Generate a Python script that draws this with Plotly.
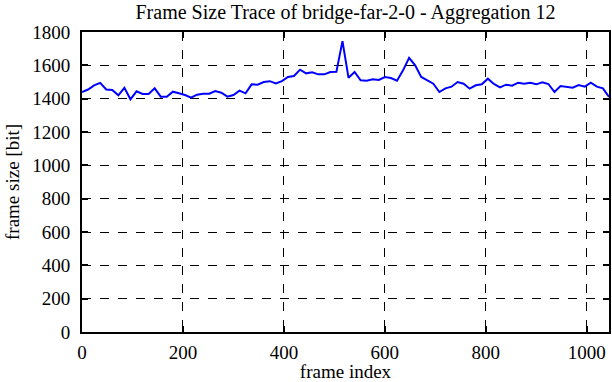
import plotly.graph_objects as go

frame_index = list(range(0, 1045, 12))
frame_size = [
    1440, 1455, 1480, 1495, 1455, 1452, 1420, 1465, 1396, 1444,
    1428, 1428, 1462, 1412, 1412, 1442, 1432, 1422, 1406, 1424,
    1430, 1430, 1446, 1436, 1412, 1422, 1448, 1432, 1486, 1484,
    1500, 1505, 1492, 1505, 1530, 1536, 1574, 1552, 1558, 1546,
    1546, 1560, 1562, 1745, 1525, 1560, 1510, 1508, 1516, 1512,
    1530, 1524, 1508, 1570, 1645, 1600, 1530, 1508, 1490, 1440,
    1462, 1472, 1500, 1490, 1460, 1480, 1486, 1520, 1488, 1468,
    1484, 1478, 1496, 1490, 1496, 1486, 1498, 1488, 1440, 1476,
    1472, 1466, 1482, 1472, 1496, 1472, 1462, 1410,
]

x_ticks = [0, 200, 400, 600, 800, 1000]
y_ticks = [0, 200, 400, 600, 800, 1000, 1200, 1400, 1600, 1800]

font_family = "Liberation Serif, Times New Roman, serif"

W, H = 612, 382
L, R, T, B = 82, 3, 32, 50

fig = go.Figure()
fig.add_trace(go.Scatter(
    x=frame_index, y=frame_size, mode="lines",
    line=dict(color="#0000ff", width=2),
    showlegend=False,
))

axis_common = dict(
    showline=True, linecolor="black", linewidth=2, mirror="ticks",
    ticks="inside", ticklen=6, tickwidth=1.5, tickcolor="black",
    showgrid=True, gridcolor="black", gridwidth=1, griddash="dash",
    zeroline=False, automargin=False,
    tickfont=dict(family=font_family, size=19, color="black"),
)

fig.update_layout(
    width=W, height=H,
    margin=dict(l=L, r=R, t=T, b=B),
    paper_bgcolor="white", plot_bgcolor="white",
    font=dict(family=font_family, size=19, color="black"),
    title=dict(
        text="Frame Size Trace of bridge-far-2-0 - Aggregation 12",
        x=(L + (W - R)) / 2 / W, xanchor="center", xref="container",
        y=1 - 12 / H, yanchor="middle", yref="container",
        font=dict(family=font_family, size=20, color="black"),
    ),
    xaxis=dict(
        range=[0, 1044], tickvals=x_ticks, ticklabelstandoff=2,
        title=dict(text="frame index", standoff=5,
                   font=dict(family=font_family, size=19, color="black")),
        **axis_common,
    ),
    yaxis=dict(
        range=[0, 1800], tickvals=y_ticks, ticklabelstandoff=6,
        title=dict(text="frame size [bit]", standoff=8,
                   font=dict(family=font_family, size=19, color="black")),
        **axis_common,
    ),
)

fig.write_html(
    "out.html",
    config={"displayModeBar": False},
    post_script="document.body.style.margin='0';document.body.style.overflow='hidden';",
)
